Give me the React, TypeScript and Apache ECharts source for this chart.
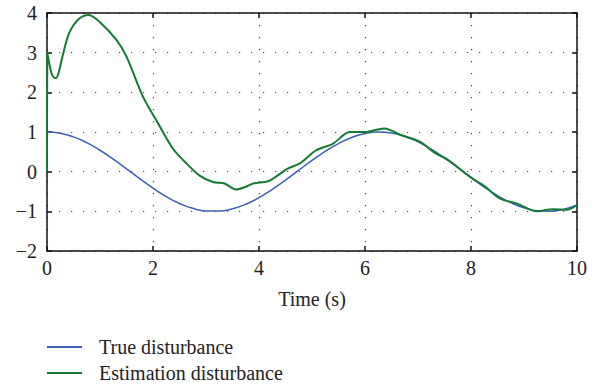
import React, { useEffect, useRef } from "react";
import * as echarts from "echarts";

const timeTrue = [0, 0.25, 0.5, 0.75, 1, 1.25, 1.5, 1.75, 2, 2.25, 2.5, 2.75, 3, 3.25, 3.5, 3.75, 4, 4.25, 4.5, 4.75, 5, 5.25, 5.5, 5.75, 6, 6.25, 6.5, 6.75, 7, 7.25, 7.5, 7.75, 8, 8.25, 8.5, 8.75, 9, 9.25, 9.5, 9.75, 10];
const trueValues = [1, 0.969, 0.878, 0.732, 0.54, 0.315, 0.071, -0.178, -0.416, -0.628, -0.801, -0.924, -0.99, -0.994, -0.936, -0.82, -0.654, -0.446, -0.211, 0.037, 0.284, 0.512, 0.709, 0.861, 0.96, 1.0, 0.977, 0.894, 0.754, 0.567, 0.347, 0.108, -0.146, -0.39, -0.602, -0.78, -0.911, -0.985, -0.997, -0.946, -0.839];

const timeEst = [0, 0.005, 0.03, 0.08, 0.13, 0.17, 0.22, 0.3, 0.42, 0.6, 0.79, 0.99, 1.31, 1.5, 1.81, 2.06, 2.37, 2.6, 2.88, 3.13, 3.35, 3.57, 3.75, 3.89, 4.17, 4.35, 4.55, 4.77, 5.08, 5.4, 5.71, 6.03, 6.2, 6.37, 6.66, 7.04, 7.29, 7.57, 7.98, 8.26, 8.55, 8.86, 9.24, 9.55, 9.81, 10];
const estValues = [0, 3.0, 2.82, 2.5, 2.37, 2.36, 2.5, 2.95, 3.5, 3.85, 3.95, 3.78, 3.32, 2.9, 1.89, 1.3, 0.59, 0.25, -0.1, -0.26, -0.3, -0.45, -0.38, -0.3, -0.24, -0.1, 0.08, 0.21, 0.54, 0.71, 1.0, 1.0, 1.05, 1.09, 0.93, 0.75, 0.5, 0.29, -0.13, -0.37, -0.68, -0.8, -1.0, -0.95, -0.96, -0.84];

const seriesNames = ["True disturbance", "Estimation disturbance"];
const xLabel = "Time (s)";

const FONT = "'Liberation Serif', 'DejaVu Serif', serif";

export default function App() {
  const ref = useRef<HTMLDivElement>(null);
  useEffect(() => {
    if (!ref.current) return;
    const chart = echarts.init(ref.current, undefined, { renderer: "svg" });
    const axisLine = { show: true, onZero: false, lineStyle: { color: "#111", width: 1.5 } };
    const tick = { show: true, inside: true, length: 5, lineStyle: { color: "#111", width: 1.5 } };
    const grid = { show: true, lineStyle: { color: "#444", width: 1.2, type: [1.2, 10.8] as any } };
    const label = { color: "#222", fontFamily: FONT, fontSize: 20 };
    chart.setOption({
      animation: false,
      backgroundColor: "#fff",
      grid: { left: 47, top: 13, right: 29, bottom: 136, containLabel: false },
      legend: {
        orient: "vertical",
        left: 47,
        top: 334,
        padding: 0,
        itemWidth: 35,
        itemHeight: 2,
        itemGap: 0,
        icon: "rect",
        textStyle: { color: "#222", fontFamily: FONT, fontSize: 20, lineHeight: 26, padding: [0, 0, 0, 12] },
        data: seriesNames,
      },
      xAxis: [
        {
          type: "value",
          min: 0,
          max: 10,
          interval: 2,
          position: "bottom",
          axisLine,
          axisTick: tick,
          splitLine: grid,
          axisLabel: { ...label, margin: 7 },
          name: xLabel,
          nameLocation: "middle",
          nameGap: 38,
          nameTextStyle: { color: "#222", fontFamily: FONT, fontSize: 20 },
        },
        {
          type: "value",
          min: 0,
          max: 10,
          interval: 2,
          position: "top",
          axisLine,
          axisTick: tick,
          splitLine: { show: false },
          axisLabel: { show: false },
        },
      ],
      yAxis: [
        {
          type: "value",
          min: -2,
          max: 4,
          interval: 1,
          position: "left",
          axisLine,
          axisTick: tick,
          splitLine: grid,
          axisLabel: { ...label, margin: 10, formatter: (v: number) => String(v).replace("-", "\u2212") },
        },
        {
          type: "value",
          min: -2,
          max: 4,
          interval: 1,
          position: "right",
          axisLine,
          axisTick: tick,
          splitLine: { show: false },
          axisLabel: { show: false },
        },
      ],
      series: [
        {
          name: seriesNames[0],
          type: "line",
          showSymbol: false,
          smooth: true,
          data: timeTrue.map((t, i) => [t, trueValues[i]]),
          lineStyle: { color: "#3d5fb8", width: 1.5 },
          itemStyle: { color: "#3d5fb8" },
          z: 2,
        },
        {
          name: seriesNames[1],
          type: "line",
          showSymbol: false,
          smooth: 0.3,
          data: timeEst.map((t, i) => [t, estValues[i]]),
          lineStyle: { color: "#157a35", width: 2 },
          itemStyle: { color: "#157a35" },
          z: 3,
        },
      ],
    });
    return () => chart.dispose();
  }, []);
  return <div ref={ref} style={{ position: "fixed", left: 0, top: 0, width: 606, height: 387 }} />;
}
